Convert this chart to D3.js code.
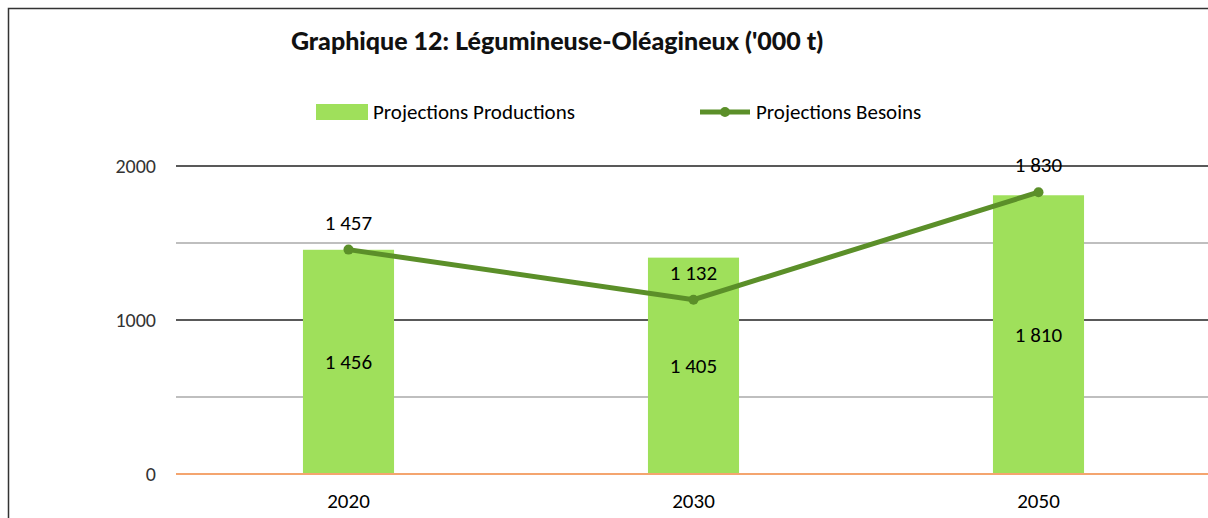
<!DOCTYPE html>
<html>
<head>
<meta charset="utf-8">
<script src="https://cdn.jsdelivr.net/npm/d3@7"></script>
<style>
  body { margin: 0; background: #fff; }
  svg { display: block; font-family: Carlito, Calibri, Lato, "Open Sans", sans-serif; }
</style>
</head>
<body>
<div id="chart"></div>
<script>
// data ('000 t)
const years = ["2020", "2030", "2050"];
const productions = [1456, 1405, 1810];
const besoins = [1457, 1132, 1830];
const yTicks = [0, 500, 1000, 1500, 2000];
const yLabels = [0, 1000, 2000];

const width = 1208;
const height = 518;

const svg = d3.select("#chart")
    .append("svg")
    .attr("width", width)
    .attr("height", height);

// frame of the text box
svg.append("path")
    .attr("d", `M8.5,${height} V8.5 H${width}`)
    .attr("fill", "none")
    .attr("stroke", "#333")
    .attr("stroke-width", 1.5);

// title
svg.append("text")
    .attr("x", 557)
    .attr("y", 50)
    .attr("text-anchor", "middle")
    .style("font-family", "Lato, sans-serif")
    .style("font-weight", "900")
    .style("font-size", "25px")
    .style("fill", "#111")
    .text("Graphique 12: Légumineuse-Oléagineux ('000 t)");

// scales
const x = d3.scaleBand()
    .domain(years)
    .range([176, 1211])
    .paddingInner(0.736)
    .paddingOuter(0.368);

const y = d3.scaleLinear()
    .domain([0, 2000])
    .range([474, 166]);

// gridlines
svg.append("g")
    .selectAll("line")
    .data(yTicks)
    .enter().append("line")
    .attr("x1", 176)
    .attr("x2", width)
    .attr("y1", d => y(d))
    .attr("y2", d => y(d))
    .attr("stroke", d => d === 0 ? "#f4a56f" : (d % 1000 === 0 ? "#595959" : "#bfbfbf"))
    .attr("stroke-width", 2);

// y labels
svg.append("g")
    .selectAll("text")
    .data(yLabels)
    .enter().append("text")
    .attr("x", 156)
    .attr("y", d => y(d) + 7)
    .attr("text-anchor", "end")
    .style("font-size", "20px")
    .style("fill", "#333")
    .text(d => d);

// bars
svg.append("g")
    .selectAll("rect")
    .data(productions)
    .enter().append("rect")
    .attr("x", (d, i) => x(years[i]))
    .attr("y", d => y(d))
    .attr("width", x.bandwidth())
    .attr("height", d => y(0) - y(d))
    .attr("fill", "#9fe05b");

// redraw zero line above bars
svg.append("line")
    .attr("x1", 176)
    .attr("x2", width)
    .attr("y1", y(0))
    .attr("y2", y(0))
    .attr("stroke", "#f4a56f")
    .attr("stroke-width", 2);

const fmt = v => d3.format(",")(v).replace(",", " ");

// bar labels
svg.append("g")
    .selectAll("text")
    .data(productions)
    .enter().append("text")
    .attr("x", (d, i) => x(years[i]) + x.bandwidth() / 2)
    .attr("y", d => (y(d) + y(0)) / 2 + 7)
    .attr("text-anchor", "middle")
    .style("font-size", "21px")
    .style("fill", "#000")
    .text(d => fmt(d));

// line
const cx = (d, i) => x(years[i]) + x.bandwidth() / 2;
const line = d3.line()
    .x(cx)
    .y(d => y(d));

svg.append("path")
    .datum(besoins)
    .attr("d", line)
    .attr("fill", "none")
    .attr("stroke", "#5b8f29")
    .attr("stroke-width", 5);

svg.append("g")
    .selectAll("circle")
    .data(besoins)
    .enter().append("circle")
    .attr("cx", cx)
    .attr("cy", d => y(d))
    .attr("r", 5)
    .attr("fill", "#5b8f29");

svg.append("g")
    .selectAll("text")
    .data(besoins)
    .enter().append("text")
    .attr("x", cx)
    .attr("y", d => y(d) - 20)
    .attr("text-anchor", "middle")
    .style("font-size", "21px")
    .style("fill", "#000")
    .text(d => fmt(d));

// x labels
svg.append("g")
    .selectAll("text")
    .data(years)
    .enter().append("text")
    .attr("x", d => x(d) + x.bandwidth() / 2)
    .attr("y", 508)
    .attr("text-anchor", "middle")
    .style("font-size", "21px")
    .style("fill", "#000")
    .text(d => d);

// legend
const legend = svg.append("g");
legend.append("rect")
    .attr("x", 316)
    .attr("y", 104)
    .attr("width", 52)
    .attr("height", 16)
    .attr("fill", "#9fe05b");
legend.append("text")
    .attr("x", 373)
    .attr("y", 119)
    .style("font-size", "21px")
    .text("Projections Productions");

legend.append("line")
    .attr("x1", 700)
    .attr("x2", 750)
    .attr("y1", 112)
    .attr("y2", 112)
    .attr("stroke", "#5b8f29")
    .attr("stroke-width", 5);
legend.append("circle")
    .attr("cx", 725)
    .attr("cy", 112)
    .attr("r", 5)
    .attr("fill", "#5b8f29");
legend.append("text")
    .attr("x", 756)
    .attr("y", 119)
    .style("font-size", "21px")
    .text("Projections Besoins");
</script>
</body>
</html>
